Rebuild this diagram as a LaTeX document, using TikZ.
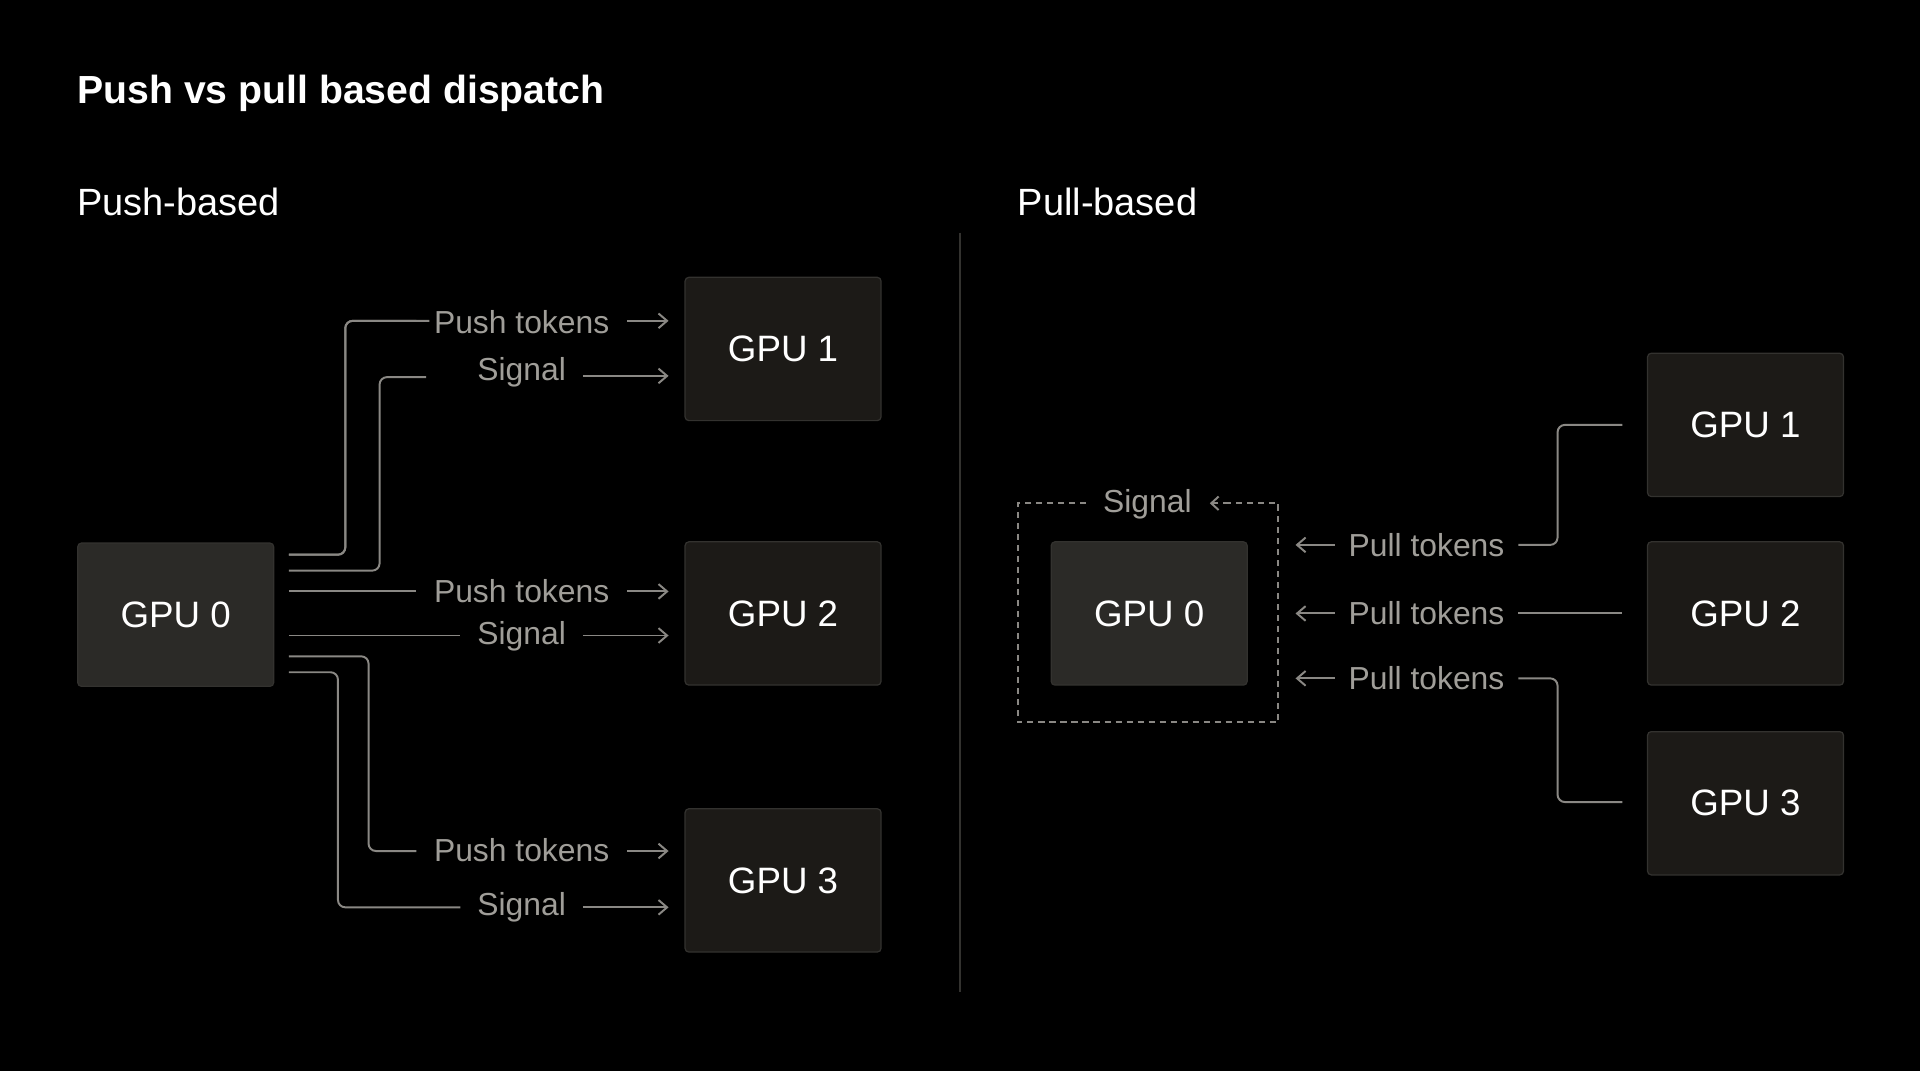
\documentclass[tikz,border=0pt]{standalone}
\usepackage{fontspec}
\setmainfont{Liberation Sans}
\usetikzlibrary{arrows.meta}
\definecolor{ln}{HTML}{8A8884}
\definecolor{lbl}{HTML}{A09E99}
\definecolor{boxA}{HTML}{2B2A27}
\definecolor{boxB}{HTML}{1C1A17}
\definecolor{bd}{HTML}{33322F}
\begin{document}
\begin{tikzpicture}[x=1pt,y=-1pt,
  gpu/.style={draw=bd,line width=1pt,rounded corners=3pt,minimum width=160pt,minimum height=117pt,text=white,font=\fontsize{30}{32}\selectfont,anchor=north west},
  lab/.style={text=lbl,font=\fontsize{26}{28}\selectfont,inner sep=0pt},
  wire/.style={draw=ln,line width=1.6pt,rounded corners=6pt},
  arr/.style={draw=ln,line width=1.6pt,-{Straight Barb[length=7pt,width=12pt]}},
  hd/.style={text=white,anchor=west,font=\fontsize{31}{33}\selectfont,inner sep=0pt}]
\fill[black] (0,0) rectangle (1568,875);
\useasboundingbox (0,0) rectangle (1568,875);
\node[hd,font=\bfseries\fontsize{32}{34}\selectfont] (title) at (63,76) {Push vs pull based dispatch};
\node[hd] (hpush) at (63,165) {Push-based};
\node[hd] (hpull) at (831,165) {Pull-based};
\coordinate (dv1) at (784,190); \coordinate (dv2) at (784,810);
\draw[color=bd,line width=1pt] (dv1) -- (dv2);
% left boxes
\node[gpu,fill=boxA] (L0) at (63,443) {GPU 0};
\node[gpu,fill=boxB] (L1) at (559,226) {GPU 1};
\node[gpu,fill=boxB] (L2) at (559,442) {GPU 2};
\node[gpu,fill=boxB] (L3) at (559,660) {GPU 3};
% labels
\node[lab] (p1) at (426,263) {Push tokens};
\node[lab] (s1) at (426,304) {Signal};
\node[lab] (p2) at (426,483) {Push tokens};
\node[lab] (s2) at (426,520) {Signal};
\node[lab] (p3) at (426,694) {Push tokens};
\node[lab] (s3) at (426,741) {Signal};
% wires
\path[wire] (236,453) -- (282,453) -- (282,262) -- (p1.west|-0,262) -- ++(-10,0);
\draw[wire] (236,453) -- (282,453) -- (282,262) -- (340,262);
\draw[wire] (236,466) -- (310,466) -- (310,308) -- (348,308);
\draw[wire] (236,483) -- (340,483);
\draw[wire] (236,519) -- (376,519);
\draw[wire] (236,536) -- (301,536) -- (301,695) -- (340,695);
\draw[wire] (236,549) -- (276,549) -- (276,741) -- (376,741);
\draw[arr] (512,262) -- (546,262);
\draw[arr] (476,307) -- (546,307);
\draw[arr] (512,483) -- (546,483);
\draw[arr] (476,519) -- (546,519);
\draw[arr] (512,695) -- (546,695);
\draw[arr] (476,741) -- (546,741);
% right
\node[gpu,fill=boxA] (R0) at (858,442) {GPU 0};
\node[gpu,fill=boxB] (R1) at (1345,288) {GPU 1};
\node[gpu,fill=boxB] (R2) at (1345,442) {GPU 2};
\node[gpu,fill=boxB] (R3) at (1345,597) {GPU 3};
\node[lab] (sig) at (937,412) {Signal};
\draw[draw=ln,line width=1.6pt,dash pattern=on 5pt off 4pt] (887,411) -- (831,411) -- (831,590) -- (1044,590) -- (1044,411) -- (1000,411);
\draw[draw=ln,line width=1.6pt,dash pattern=on 5pt off 4pt,-{Straight Barb[length=6pt,width=11pt]}] (1004,411) -- (988,411);
\node[lab] (q1) at (1165,445) {Pull tokens};
\node[lab] (q2) at (1165,501) {Pull tokens};
\node[lab] (q3) at (1165,554) {Pull tokens};
\draw[arr] (1090,445) -- (1058,445);
\draw[arr] (1090,501) -- (1058,501);
\draw[arr] (1090,554) -- (1058,554);
\draw[wire] (1240,445) -- (1272,445) -- (1272,347) -- (1325,347);
\draw[wire] (1240,501) -- (1325,501);
\draw[wire] (1240,554) -- (1272,554) -- (1272,655) -- (1325,655);
\end{tikzpicture}
\end{document}
